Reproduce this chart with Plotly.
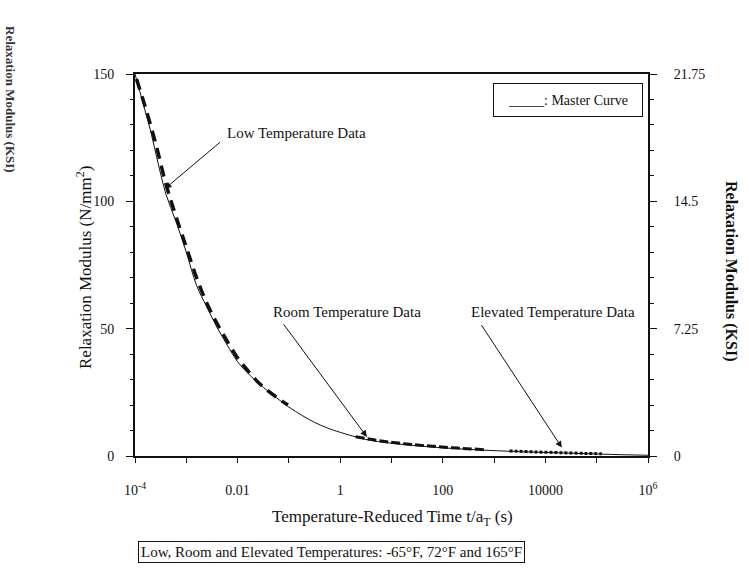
import plotly.graph_objects as go

# ---- data ----
master_logt = [-4.0, -3.85, -3.7, -3.55, -3.4, -3.2, -3.0, -2.8, -2.6, -2.4, -2.2, -2.0,
               -1.75, -1.5, -1.25, -1.0, -0.75, -0.5, -0.25, 0.0, 0.5, 1.0, 1.5, 2.0,
               2.5, 3.0, 3.5, 4.0, 4.5, 5.0, 5.5, 6.0]
master_E = [150, 139, 128, 115, 103, 92, 80, 67, 58.5, 50.5, 43.5, 37,
            31.5, 27, 23, 19.2, 16, 13.2, 11, 9.3, 6.5, 5.0, 4.0, 3.2,
            2.6, 2.1, 1.7, 1.4, 1.1, 0.8, 0.5, 0.3]

low_logt = [-3.97, -3.8, -3.6, -3.4, -3.2, -3.0, -2.8, -2.6, -2.4, -2.2, -2.0, -1.8,
            -1.6, -1.4, -1.2, -1.02]
low_E = [148, 137, 123, 107, 94, 82, 70, 60, 52, 45, 38.5, 33.5, 29, 25.5, 22.5, 20]

room_logt = [0.3, 0.8, 1.3, 1.8, 2.3, 2.8]
room_E = [7.6, 5.9, 4.7, 3.8, 3.1, 2.5]

elev_logt = [3.3, 3.8, 4.3, 4.8, 5.1]
elev_E = [2.0, 1.6, 1.3, 1.0, 0.9]

x_tick_logs = [-4, -3, -2, -1, 0, 1, 2, 3, 4, 5, 6]
x_tick_text = ["10<sup>-4</sup>", "", "0.01", "", "1", "", "100", "", "10000", "", "10<sup>6</sup>"]
y_left_ticks = [0, 50, 100, 150]
y_right_ticks = [0, 7.25, 14.5, 21.75]
y_right_text = ["0", "7.25", "14.5", "21.75"]

FONT = "Liberation Serif"
ink = "#111111"

def tv(logs):
    return [10.0 ** v for v in logs]

fig = go.Figure()
fig.add_trace(go.Scatter(x=tv(master_logt), y=master_E, mode="lines",
                         line=dict(color=ink, width=1, shape="spline"), showlegend=False))
fig.add_trace(go.Scatter(x=tv(low_logt), y=low_E, mode="lines",
                         line=dict(color=ink, width=3.5, dash="11px,7px", shape="spline"),
                         showlegend=False))
fig.add_trace(go.Scatter(x=tv(room_logt), y=room_E, mode="lines",
                         line=dict(color=ink, width=3, dash="9px,3px", shape="spline"),
                         showlegend=False))
fig.add_trace(go.Scatter(x=tv(elev_logt), y=elev_E, mode="lines",
                         line=dict(color=ink, width=3, dash="3px,2px", shape="spline"),
                         showlegend=False))
# invisible trace to activate right axis
fig.add_trace(go.Scatter(x=[1e-4], y=[0], yaxis="y2", mode="markers",
                         marker=dict(opacity=0), showlegend=False, hoverinfo="skip"))

L, R, T, B = 135, 648, 74, 456
W, H = 749, 575

def px(xp):
    return (xp - L) / (R - L)

def py(yp):
    return (B - yp) / (B - T)

annots = []
# arrows
arrows = [
    (-3.415, 105.0, 57, -48),
    (0.52, 7.5, -85, -115),
    (4.32, 3.3, -82, -125),
]
for ax_log, ey, dx, dy in arrows:
    annots.append(dict(x=ax_log, y=ey, xref="x", yref="y", text=" ", showarrow=True,
                       arrowhead=2, arrowsize=1.3, arrowwidth=1, arrowcolor=ink,
                       ax=dx, ay=dy, standoff=0, startstandoff=0,
                       font=dict(size=2)))
labels = [
    ("Low Temperature Data", 225, 133),
    ("Room Temperature Data", 271, 312),
    ("Elevated Temperature Data", 469, 312),
]
for txt, xp, yp in labels:
    annots.append(dict(x=px(xp), y=py(yp), xref="paper", yref="paper", text=txt,
                       showarrow=False, xanchor="left", yanchor="middle",
                       font=dict(family=FONT, size=15, color=ink)))

# legend-like box
annots.append(dict(x=px(493), y=py(83), xref="paper", yref="paper",
                   text="_____: Master Curve", showarrow=False, xanchor="left", yanchor="top",
                   width=146, height=30, bordercolor=ink, borderwidth=1, borderpad=1,
                   bgcolor="white", font=dict(family=FONT, size=14, color=ink)))
# bottom note box
annots.append(dict(x=px(138), y=py(552), xref="paper", yref="paper",
                   text="Low, Room and Elevated Temperatures: -65°F, 72°F and 165°F",
                   showarrow=False, xanchor="left", yanchor="middle",
                   bordercolor=ink, borderwidth=1, borderpad=2,
                   font=dict(family=FONT, size=15, color=ink)))
# axis titles
annots.append(dict(x=px(392), y=py(518), xref="paper", yref="paper",
                   text="Temperature-Reduced Time t/a<sub>T</sub> (s)", showarrow=False,
                   xanchor="center", yanchor="middle",
                   font=dict(family=FONT, size=17, color=ink)))
annots.append(dict(x=px(84), y=py(268), xref="paper", yref="paper",
                   text="Relaxation Modulus (N/mm<sup>2</sup>)", showarrow=False, textangle=-90,
                   xanchor="center", yanchor="middle",
                   font=dict(family=FONT, size=17, color=ink)))
annots.append(dict(x=px(731), y=py(271), xref="paper", yref="paper",
                   text="<b>Relaxation Modulus (KSI)</b>", showarrow=False, textangle=90,
                   xanchor="center", yanchor="middle",
                   font=dict(family=FONT, size=16, color=ink)))
annots.append(dict(x=px(11), y=py(99), xref="paper", yref="paper",
                   text="<b>Relaxation Modulus (KSI)</b>", showarrow=False, textangle=90,
                   xanchor="center", yanchor="middle",
                   font=dict(family=FONT, size=13, color="#333333")))

fig.update_layout(
    width=W, height=H,
    margin=dict(l=L, r=W - R, t=T, b=H - B),
    paper_bgcolor="white", plot_bgcolor="white",
    font=dict(family=FONT, size=14, color=ink),
    xaxis=dict(type="log", range=[-4, 6], tickvals=tv(x_tick_logs), ticktext=x_tick_text,
               ticks="outside", ticklen=5, tickwidth=1, tickcolor=ink,
               ticklabelstandoff=15, showgrid=False, zeroline=False,
               showline=True, linecolor=ink, linewidth=2, mirror=True,
               tickfont=dict(family=FONT, size=14, color=ink)),
    yaxis=dict(range=[0, 150], tickvals=y_left_ticks, ticks="outside", ticklen=7,
               tickwidth=1, tickcolor=ink, ticklabelstandoff=9,
               minor=dict(dtick=10, ticks="outside", ticklen=3, tickcolor=ink),
               showgrid=False, zeroline=False, showline=True, linecolor=ink, linewidth=2,
               tickfont=dict(family=FONT, size=14, color=ink)),
    yaxis2=dict(range=[0, 21.75], overlaying="y", side="right", tickvals=y_right_ticks,
                ticktext=y_right_text, ticks="outside", ticklen=7, tickwidth=1,
                tickcolor=ink, ticklabelstandoff=14,
                minor=dict(dtick=1.45, ticks="outside", ticklen=4, tickcolor=ink),
                showgrid=False, zeroline=False, showline=True, linecolor=ink, linewidth=2,
                tickfont=dict(family=FONT, size=14, color=ink)),
    annotations=annots,
)

fig.write_html("out.html")
